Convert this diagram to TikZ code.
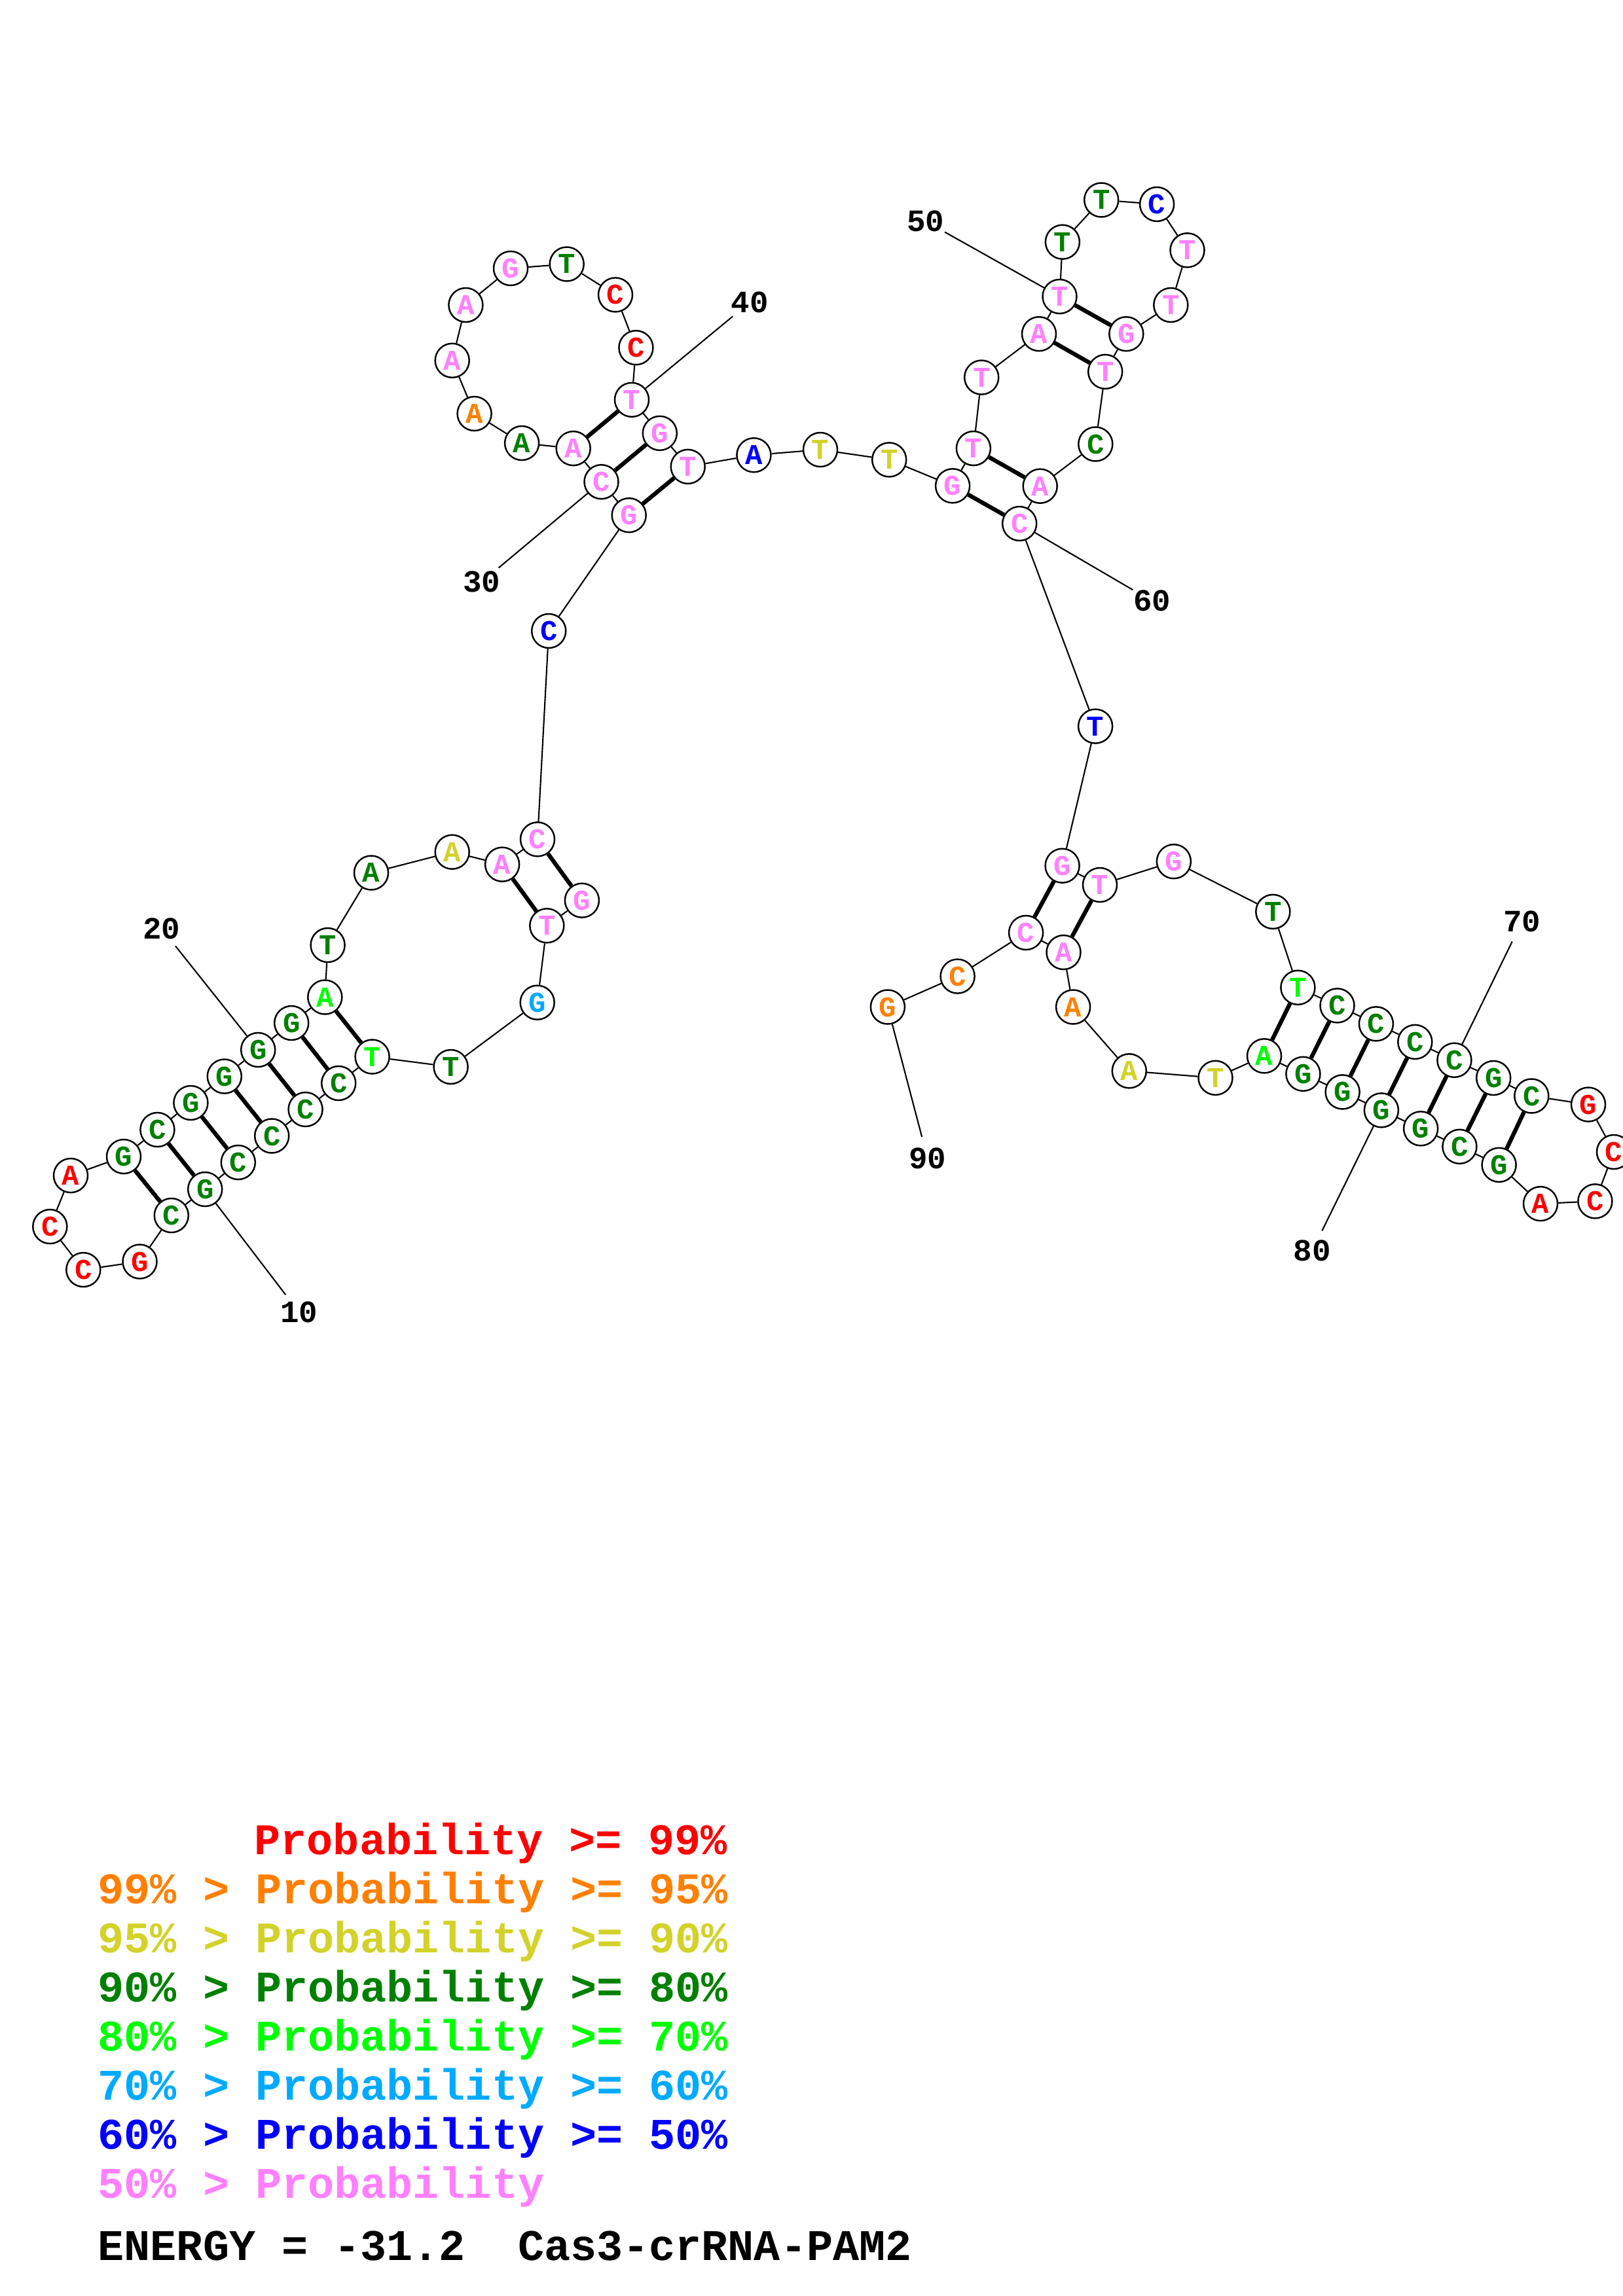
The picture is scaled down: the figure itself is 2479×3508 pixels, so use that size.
\documentclass[tikz,border=0pt]{standalone}
\usepackage{fontspec}
\setmainfont{Liberation Mono}
\definecolor{rd}{RGB}{255,0,0}
\definecolor{og}{RGB}{255,128,0}
\definecolor{yl}{RGB}{210,210,42}
\definecolor{dg}{RGB}{0,128,0}
\definecolor{lg}{RGB}{0,255,0}
\definecolor{lb}{RGB}{0,170,255}
\definecolor{bl}{RGB}{0,0,255}
\definecolor{pk}{RGB}{255,128,255}
\begin{document}
\begin{tikzpicture}[x=0.01cm,y=-0.01cm,
  base/.style={circle,draw,line width=0.7pt,fill=white,minimum size=0.52cm,inner sep=0pt,
    font=\fontsize{12.5}{12.5}\selectfont\bfseries},
  bb/.style={line width=0.6pt},
  pr/.style={line width=1.8pt},
  lab/.style={circle,inner sep=0pt,minimum size=0.66cm,font=\fontsize{13.5}{13.5}\selectfont\bfseries},
  leg/.style={anchor=base west,inner sep=0pt,font=\fontsize{19}{19}\selectfont\bfseries}]
\useasboundingbox (0,0) rectangle (2479,3508);
\foreach \i/\x/\y/\l/\c in {
1/888.9/1375.7/G/pk, 2/835.3/1414.3/T/pk, 3/820.7/1531.7/G/lb, 4/688.6/1630/T/dg,
5/568.6/1614.5/T/lg, 6/517.2/1655/C/dg, 7/466.6/1695/C/dg, 8/415.2/1735.5/C/dg,
9/363.8/1776/C/dg, 10/313.2/1817/G/dg, 11/261.8/1857/C/dg, 12/213.5/1927.5/G/rd,
13/127.3/1940/C/rd, 14/76.3/1874/C/rd, 15/108/1796/A/rd, 16/189/1767/G/dg,
17/240.4/1726/C/dg, 18/291.4/1685/G/dg, 19/342.8/1644.5/G/dg, 20/394.2/1604/G/dg,
21/445.2/1563/G/dg, 22/496.3/1523.5/A/lg, 23/500.6/1444/T/dg, 24/567/1333.5/A/dg,
25/690.7/1301.7/A/yl, 26/767.1/1320.7/A/pk, 27/821/1282.3/C/pk, 28/838.2/964/C/bl,
29/960.7/787.2/G/pk, 30/918.5/736.2/C/pk, 31/875.7/685.1/A/pk, 32/797.1/677/A/dg,
33/724.6/632/A/og, 34/690.7/550.8/A/pk, 35/711.4/466/A/pk, 36/780/410/G/pk,
37/865.7/403.5/T/dg, 38/940/450.4/C/rd, 39/971.4/531.2/C/rd, 40/965/610.8/T/pk,
41/1007.8/661.9/G/pk, 42/1050.7/712.9/T/pk, 43/1151.4/695.3/A/bl, 44/1253/687/T/yl,
45/1358.2/702.4/T/yl, 46/1455.1/742.3/G/pk, 47/1486.9/685/T/pk, 48/1499.2/576.6/T/pk,
49/1587/510.2/A/pk, 50/1618.5/453/T/pk, 51/1622.9/369.7/T/dg, 52/1682.2/305.5/T/dg,
53/1767.1/312/C/bl, 54/1813.5/382.3/T/pk, 55/1788.3/466/T/pk, 56/1720.3/510.2/G/pk,
57/1688.2/567.9/T/pk, 58/1673.3/678.5/C/dg, 59/1588.7/742.7/A/pk, 60/1557.2/800/C/pk,
61/1673.1/1109.6/T/bl, 62/1622.6/1322.7/G/pk, 63/1680/1352/T/pk, 64/1792.9/1316.2/G/pk,
65/1944.3/1392.9/T/dg, 66/1982.4/1508.8/T/lg, 67/2042.5/1536.4/C/dg, 68/2101.9/1564.3/C/dg,
69/2161.3/1591.9/C/dg, 70/2221.4/1619.8/C/dg, 71/2281.2/1647/G/dg, 72/2339.3/1674.5/C/dg,
73/2426/1687.5/G/rd, 74/2465/1760/C/rd, 75/2436.4/1835.3/C/rd, 76/2353/1839.1/A/rd,
77/2289.6/1779.8/G/dg, 78/2229.4/1751.8/C/dg, 79/2170.1/1724.3/G/dg, 80/2109.9/1696.3/G/dg,
81/2050.6/1668.4/G/dg, 82/1990.4/1640.8/G/dg, 83/1931/1613.3/A/lg, 84/1856.5/1646.8/T/yl,
85/1724.8/1636.3/A/yl, 86/1639.1/1538.5/A/og, 87/1624.5/1455/A/pk, 88/1567.1/1425/C/pk,
89/1462.6/1491.6/C/og, 90/1355.9/1538.5/G/og}
  \node[base,text=\c] (n\i) at (\x,\y) {\l};
% backbone
\foreach \i [evaluate=\i as \j using int(\i+1)] in {1,...,89}
  \draw[bb] (n\i) -- (n\j);
% base pairs
\foreach \a/\b in {11/16,10/17,9/18,8/19,7/20,6/21,5/22,2/26,1/27,
  31/40,30/41,29/42,46/60,47/59,49/57,50/56,
  62/88,63/87,66/83,67/82,68/81,69/80,70/79,71/78,72/77}
  \draw[pr] (n\a) -- (n\b);
% position labels
\foreach \k/\x/\y in {10/456.7/2005, 20/247/1419, 30/735.7/889.3, 40/1145.3/461.8,
  50/1413.6/338, 60/1759.5/918.3, 70/2324.5/1408.2, 80/2004.4/1910.7, 90/1416.7/1769.5}
{
  \node[lab] (l\k) at (\x,\y) {\k};
  \draw[bb] (n\k) -- (l\k);
}
% legend
\node[leg,text=rd] (g1) at (388,2833) {Probability >= 99\%};
\node[leg,text=og] (g2) at (149,2908.1) {99\% > Probability >= 95\%};
\node[leg,text=yl] (g3) at (149,2983.2) {95\% > Probability >= 90\%};
\node[leg,text=dg] (g4) at (149,3058.3) {90\% > Probability >= 80\%};
\node[leg,text=lg] (g5) at (149,3133.4) {80\% > Probability >= 70\%};
\node[leg,text=lb] (g6) at (149,3208.5) {70\% > Probability >= 60\%};
\node[leg,text=bl] (g7) at (149,3283.6) {60\% > Probability >= 50\%};
\node[leg,text=pk] (g8) at (149,3358.7) {50\% > Probability};
\node[leg,text=black] (g9) at (149,3453) {ENERGY = -31.2\ \ Cas3-crRNA-PAM2};
\end{tikzpicture}
\end{document}
